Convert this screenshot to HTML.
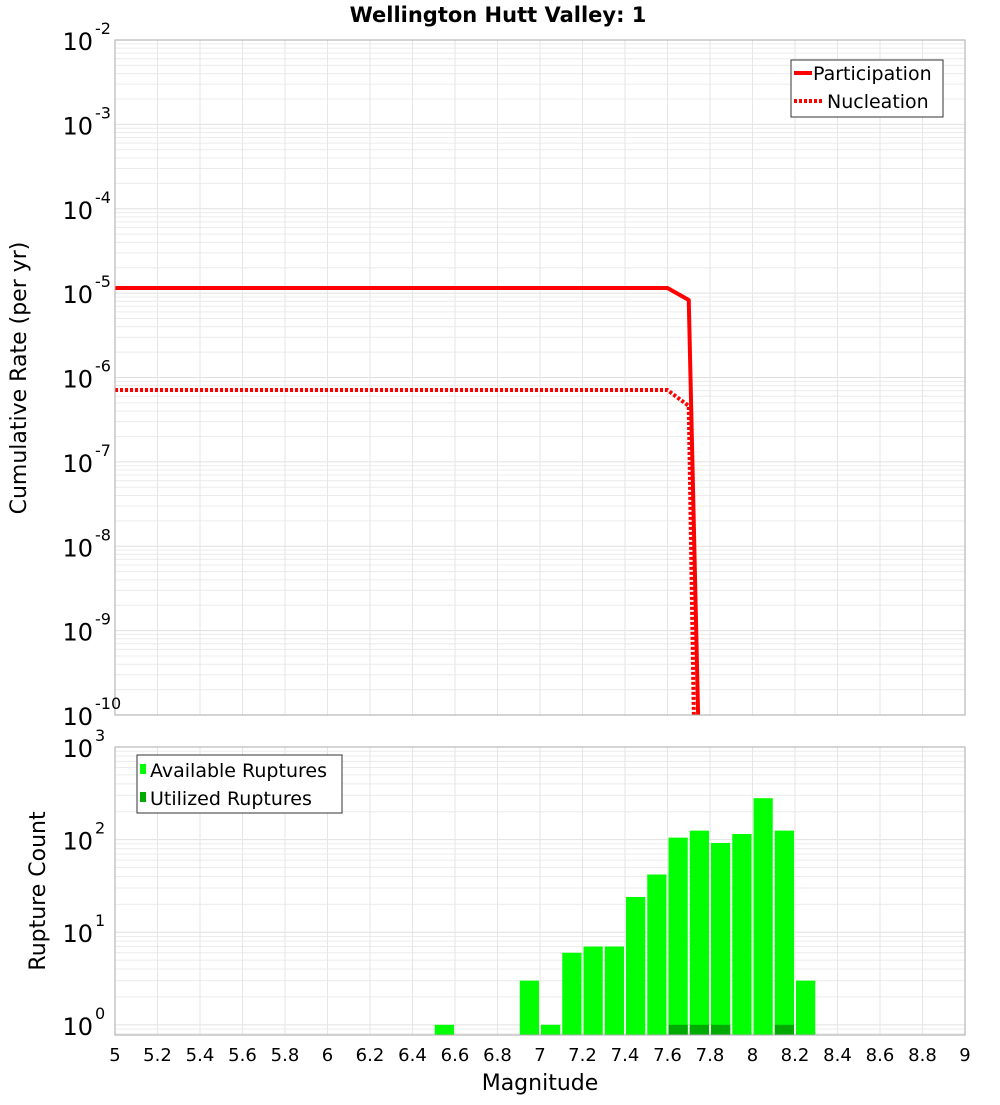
<!DOCTYPE html>
<html><head><meta charset="utf-8"><style>
body{margin:0;background:#fff;font-family:"Liberation Sans","DejaVu Sans",sans-serif}
svg text{font-family:"DejaVu Sans","Liberation Sans",sans-serif}
</style></head><body>
<svg id="c" width="1000" height="1100" xmlns="http://www.w3.org/2000/svg">
<defs>
<clipPath id="topclip"><rect x="115" y="40" width="850" height="675"/></clipPath>
<clipPath id="botclip"><rect x="115" y="747" width="850" height="288"/></clipPath>
</defs>
<text x="498" y="22" text-anchor="middle" font-size="21" font-weight="bold">Wellington Hutt Valley: 1</text>
<g id="topPlot"></g>
<g id="botPlot"></g>
<text transform="translate(26,378) rotate(-90)" text-anchor="middle" font-size="22">Cumulative Rate (per yr)</text>
<text transform="translate(45,891) rotate(-90)" text-anchor="middle" font-size="22">Rupture Count</text>
<text x="540" y="1090" text-anchor="middle" font-size="22">Magnitude</text>
<g>
<rect x="791" y="60" width="152" height="57" fill="#fff" stroke="#333" stroke-width="1"/>
<line x1="794" y1="73" x2="812" y2="73" stroke="#f00" stroke-width="4"/>
<text x="813" y="80" font-size="19">Participation</text>
<line x1="794" y1="101" x2="822" y2="101" stroke="#f00" stroke-width="4" stroke-dasharray="3,2"/>
<text x="827" y="108" font-size="19">Nucleation</text>
</g>
<g>
<rect x="137" y="755" width="205" height="58" fill="#fff" stroke="#333" stroke-width="1"/>
<rect x="140" y="764" width="6" height="10" fill="#00ff00"/>
<text x="150" y="777" font-size="19">Available Ruptures</text>
<rect x="140" y="792" width="6" height="10" fill="#00aa00"/>
<text x="150" y="805" font-size="19">Utilized Ruptures</text>
</g>
</svg>
<script>
const partMag=[5.0,7.6,7.7,7.75];
const partRate=[1.15e-5,1.15e-5,8.3e-6,2.2e-11];
const nuclMag=[5.0,7.6,7.7,7.75];
const nuclRate=[7.1e-7,7.1e-7,4.6e-7,1e-14];
const binMag=[6.55,6.95,7.05,7.15,7.25,7.35,7.45,7.55,7.65,7.75,7.85,7.95,8.05,8.15,8.25];
const availCount=[1,3,1,6,7,7,24,42,105,125,92,115,280,125,3];
const usedMag=[7.65,7.75,7.85,8.15];
const usedCount=[1,1,1,1];
const xTicks=[5,5.2,5.4,5.6,5.8,6,6.2,6.4,6.6,6.8,7,7.2,7.4,7.6,7.8,8,8.2,8.4,8.6,8.8,9];
const rateExp=[-10,-9,-8,-7,-6,-5,-4,-3,-2];
const countExp=[0,1,2,3];

const NS="http://www.w3.org/2000/svg";
const X0=115,X1=965;
const sx=m=>X0+(m-5)/4*(X1-X0);
const TT=40,TB=715;
const sy=v=>TB-(Math.log10(v)+10)/8*(TB-TT);
const BT=747,BB=1035,BL=-0.11;
const sb=v=>BB-(Math.log10(v)-BL)/(3-BL)*(BB-BT);
function mk(p,t,a){const e=document.createElementNS(NS,t);for(const k in a)e.setAttribute(k,a[k]);p.appendChild(e);return e;}
const topG=document.getElementById('topPlot'),botG=document.getElementById('botPlot');
function grid(g,yf,lo,hi,y0,y1){
 mk(g,'rect',{x:X0,y:y0,width:X1-X0,height:y1-y0,fill:'#fff'});
 for(let e=lo;e<hi;e++)for(let k=1;k<10;k++){const v=k*Math.pow(10,e),y=yf(v);if(y<y0||y>y1)continue;
  mk(g,'line',{x1:X0,x2:X1,y1:y,y2:y,stroke:k==1?'#e0e0e0':'#ececec','stroke-width':1});}
 for(let m=5;m<=9.001;m+=0.2){const x=sx(m);mk(g,'line',{x1:x,x2:x,y1:y0,y2:y1,stroke:'#e6e6e6','stroke-width':1});}
}
grid(topG,sy,-10,-2,TT,TB);
grid(botG,sb,-1,3,BT,BB);
function line(mags,vals,dash){
 const pts=mags.map((m,i)=>sx(m)+','+sy(vals[i])).join(' ');
 const l=mk(topG,'polyline',{points:pts,fill:'none',stroke:'#f00','stroke-width':4,'clip-path':'url(#topclip)','stroke-linejoin':'round'});
 if(dash)l.setAttribute('stroke-dasharray','3,2');
 return l;
}
const lp=line(partMag,partRate,false);


const ln=line(nuclMag,nuclRate,true);


mk(topG,'rect',{x:X0,y:TT,width:X1-X0,height:TB-TT,fill:'none',stroke:'#aaa'});
rateExp.forEach(e=>{const y=sy(Math.pow(10,e));
 const t=mk(topG,'text',{x:93,y:y+10,'text-anchor':'end','font-size':24});t.textContent='10';
 
 
 const s=mk(topG,'text',{x:95,y:y-6,'font-size':16});s.textContent=String(e);});
const bw=(X1-X0)/40;
binMag.forEach((m,i)=>{const y=sb(availCount[i]);
 const r=mk(botG,'rect',{x:sx(m)-bw/2+1,y:y,width:bw-2,height:BB-y,fill:'#00ff00','clip-path':'url(#botclip)'});
 
 });
usedMag.forEach((m,i)=>{const y=sb(usedCount[i]);
 const r=mk(botG,'rect',{x:sx(m)-bw/2+1,y:y,width:bw-2,height:BB-y,fill:'#00aa00'});
 
 });
mk(botG,'rect',{x:X0,y:BT,width:X1-X0,height:BB-BT,fill:'none',stroke:'#aaa'});
countExp.forEach(e=>{const y=sb(Math.pow(10,e));
 const t=mk(botG,'text',{x:93,y:y+10,'text-anchor':'end','font-size':24});t.textContent='10';
 
 
 const s=mk(botG,'text',{x:95,y:y-6,'font-size':16});s.textContent=String(e);});
xTicks.forEach(m=>{const t=mk(botG,'text',{x:sx(m),y:1061,'text-anchor':'middle','font-size':18});
 t.textContent=String(m);
 
 });
</script>
</body></html>
